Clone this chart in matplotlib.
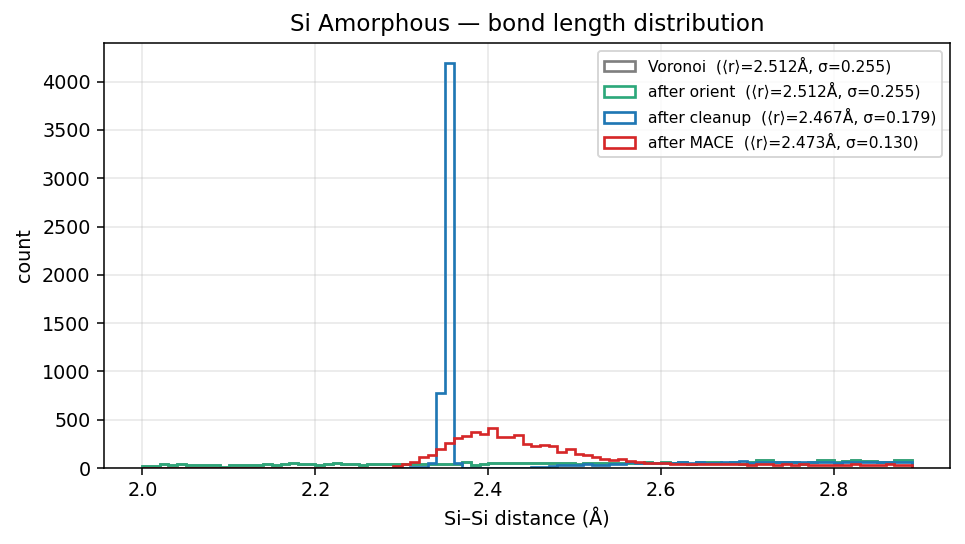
import numpy as np
import matplotlib.pyplot as plt

# bin edges: 2.00 .. 2.89 in 0.01 steps
edges = np.round(np.linspace(2.0, 2.89, 90), 3)

orient = [20, 20, 45, 30, 45, 35, 35, 35, 35, 14,
          30, 30, 30, 30, 45, 30, 45, 55, 40, 40,
          30, 45, 55, 40, 40, 30, 40, 40, 40, 38,
          38, 38, 38, 38, 38, 38, 38, 62, 28, 41,
          52, 52, 52, 52, 52, 52, 52, 52, 48, 48,
          45, 48, 50, 48, 55, 50, 55, 55, 60, 55,
          60, 55, 60, 40, 62, 60, 62, 55, 62, 45,
          62, 85, 80, 62, 62, 60, 40, 62, 82, 80,
          62, 75, 78, 75, 75, 62, 62, 83, 83]
voronoi = list(orient)

cleanup = [0] * 31 + [12, 12, 50, 780, 4190, 48, 3] + [0] * 7 + \
          [12, 14, 24, 28, 30, 35, 38, 32, 32, 40, 40, 59, 55, 50, 48,
           55, 55, 58, 50, 58, 55, 55, 60, 58, 76,
           55, 60, 62, 62, 60, 62, 58, 60, 62, 60,
           55, 60, 62, 60, 65, 58, 62, 60, 60]

mace = [0] * 19 + [3, 0, 0, 0, 0, 3, 3, 3, 3, 5,
        17, 41, 62, 110, 131, 200, 262, 314, 332, 370,
        352, 411, 321, 321, 342, 252, 228, 238, 225, 162,
        200, 145, 135, 110, 90, 80, 93, 69, 59, 55, 52,
        50, 45, 40, 45, 38, 38, 42, 40, 38, 40,
        30, 40, 38, 30, 40, 32, 40, 35, 30, 35,
        32, 32, 38, 30, 35, 32, 38, 32, 30]

labels = ['Voronoi  (⟨r⟩=2.512Å, σ=0.255)',
          'after orient  (⟨r⟩=2.512Å, σ=0.255)',
          'after cleanup  (⟨r⟩=2.467Å, σ=0.179)',
          'after MACE  (⟨r⟩=2.473Å, σ=0.130)']
colors = ['#7f7f7f', '#2ca87a', '#1f77b4', '#d62728']

fig, ax = plt.subplots(figsize=(965 / 138, 544 / 138), dpi=138)
mids = edges[:-1] + 0.005
for counts, lab, col in zip([voronoi, orient, cleanup, mace], labels, colors):
    ax.hist(mids, bins=edges, weights=counts, histtype='step',
            color=col, lw=1.4, label=lab)

ax.set_ylim(0, 4400)
ax.grid(alpha=0.3)
ax.set_xlabel('Si–Si distance (Å)')
ax.set_ylabel('count')
ax.set_title('Si Amorphous — bond length distribution')
ax.legend(fontsize=8.1, loc='upper right')
fig.subplots_adjust(left=0.1078, right=0.9845, top=0.921, bottom=0.1397)
fig.savefig('out.png')
